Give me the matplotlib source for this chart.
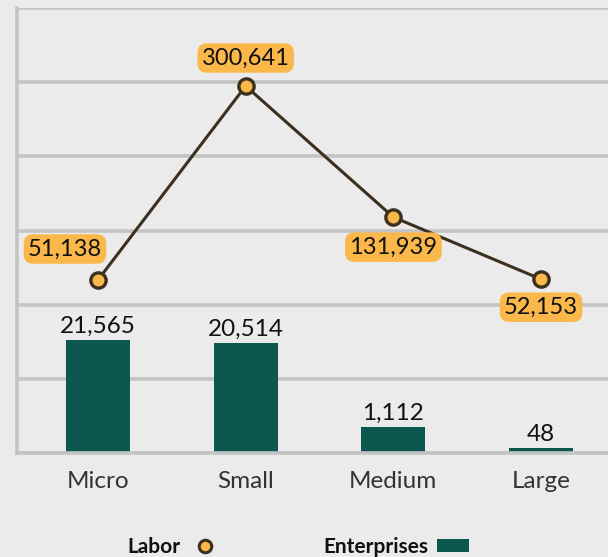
import numpy as np
import matplotlib
matplotlib.use("Agg")
import matplotlib.pyplot as plt
from matplotlib.lines import Line2D
from matplotlib.patches import Patch

categories = ["Micro", "Small", "Medium", "Large"]
enterprises = [21565, 20514, 1112, 48]
labor = [51138, 300641, 131939, 52153]

BG = "#ebebeb"
GRID = "#c4c4c4"
BAR = "#0c574f"
LINE = "#3d2f20"
ORANGE = "#fbb84a"

plt.rcParams['font.family'] = ['Lato', 'DejaVu Sans']

fig = plt.figure(figsize=(6.08, 5.57), dpi=100, facecolor=BG)
ax = fig.add_axes([17/608, 104/557, 1 - 17/608, 445/557])
ax.set_facecolor(BG)

x = np.arange(len(categories))
ax.set_yscale('function', functions=(lambda v: np.sqrt(np.clip(v, 0, None)), lambda v: np.square(v)))
bar_top = 334000
ax.set_ylim(0, bar_top)
ax.set_xlim(-0.548, 3.453)
bars = ax.bar(x, enterprises, width=0.433, color=BAR, zorder=2)
for xi, v in zip(x, enterprises):
    ax.annotate(f"{v:,}", (xi, v), xytext=(0, 3), textcoords='offset pixels',
                ha='center', va='bottom', fontsize=17.5, color='#111111')

ax.set_yticks(np.square(np.linspace(0, np.sqrt(bar_top), 7)))
ax.yaxis.set_minor_locator(matplotlib.ticker.NullLocator())
ax.grid(axis='y', color=GRID, linewidth=2.6, zorder=0)
ax.set_xticks(x)
ax.set_xticklabels(categories, fontsize=17.5, color='#333333')
ax.tick_params(axis='x', length=0, pad=13)
for s in ['top', 'right']:
    ax.spines[s].set_visible(False)
for s in ['left', 'bottom']:
    ax.spines[s].set_color(GRID)
    ax.spines[s].set_linewidth(2.6)
ax.set_axisbelow(True)

ax2 = ax.twinx()
ax.tick_params(axis='y', left=False, right=False, labelleft=False, labelright=False, which='both')
ax2.set_ylim(-171356, 400956)
ax2.plot(x, labor, color=LINE, linewidth=2.2, marker='o', markersize=11,
         markerfacecolor=ORANGE, markeredgecolor=LINE, markeredgewidth=2.4, zorder=3)
for s in ax2.spines.values():
    s.set_visible(False)
ax2.tick_params(axis='y', left=False, right=False, labelleft=False, labelright=False, which='both')
offsets = [(-33, 31), (0, 28), (0, -30), (0, -28)]
for xi, v, off in zip(x, labor, offsets):
    ax2.annotate(f"{v:,}", (xi, v), xytext=off, textcoords='offset pixels',
                 ha='center', va='center', fontsize=17, color='#111111',
                 bbox=dict(boxstyle='round,pad=0.18,rounding_size=0.4', fc=ORANGE, ec='none'))

h1 = Line2D([], [], linestyle='none', marker='o', markersize=9,
            markerfacecolor=ORANGE, markeredgecolor=LINE, markeredgewidth=2.2)
h2 = Patch(facecolor=BAR, edgecolor='none')
leg = fig.legend([h1, h2], ["Labor", "Enterprises"], loc='center',
                 bbox_to_anchor=(298/608, 10/557), ncol=2, frameon=False,
                 markerfirst=False, prop={'weight': 'bold', 'size': 15},
                 handlelength=1.5, handleheight=0.6, columnspacing=4.9, handletextpad=0.45)
for t in leg.get_texts():
    t.set_color('#111111')

fig.savefig("out.png", dpi=100, facecolor=BG)
